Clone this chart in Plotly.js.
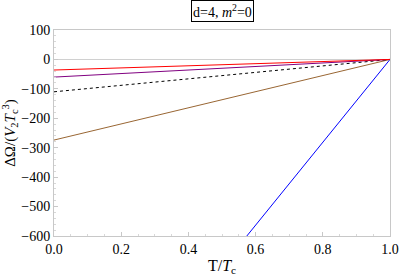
<!DOCTYPE html>
<html><head><meta charset="utf-8">
<script src="https://cdn.plot.ly/plotly-3.0.1.min.js"></script>
<style>html,body{margin:0;padding:0;background:#fff}</style>
</head><body><div id="chart" style="width:399px;height:276px"></div>
<script>
const xVals = [0, 1];
const redVals = [-36, 0];
const purpleVals = [-60, 0];
const blackVals = [-110, 0];
const brownVals = [-274, 0];
const blueVals = [-1408, 0];
const xTicks = [0, 0.2, 0.4, 0.6, 0.8, 1.0];
const xTickLabels = ['0.0','0.2','0.4','0.6','0.8','1.0'];
const yTicks = [100, 0, -100, -200, -300, -400, -500, -600];
const yTickLabels = ['100','0','−100','−200','−300','−400','−500','−600'];

const mk = (y, color, dash) => ({x: xVals, y: y, mode: 'lines', type: 'scatter',
  line: {color: color, width: 1, dash: dash || 'solid'}, hoverinfo: 'none', showlegend: false});

const traces = [
  mk(blueVals, '#0000ff'),
  mk(brownVals, '#996633'),
  mk(blackVals, '#000000', 'dot'),
  mk(purpleVals, '#800080'),
  mk(redVals, '#ff0000')
];

const FAM = 'Liberation Serif';
const wrap = s => '<span style="font-family:' + FAM + '">' + s + '</span>';

const layout = {
  width: 399, height: 276,
  margin: {l: 54, r: 9, t: 30, b: 40},
  paper_bgcolor: '#fff', plot_bgcolor: '#fff',
  font: {family: FAM, size: 14, color: '#000'},
  xaxis: {range: [0, 1], tickvals: xTicks, ticktext: xTickLabels.map(wrap),
    showgrid: false, showline: true, mirror: true, linecolor: '#c8c8c8', linewidth: 1,
    ticks: 'inside', ticklen: 4, tickcolor: '#c8c8c8',
    tickfont: {family: FAM, size: 14, color: '#000'},
    zeroline: false,
    minor: {ticks: 'inside', ticklen: 2, tickcolor: '#d8d8d8', dtick: 0.05},
    title: {text: 'T/<i>T</i><sub>c</sub>', font: {family: FAM, size: 16, color: '#000'}, standoff: 4}},
  yaxis: {range: [-600, 100], tickvals: yTicks, ticktext: yTickLabels.map(wrap),
    showgrid: false, showline: true, mirror: true, linecolor: '#c8c8c8', linewidth: 1,
    ticks: 'inside', ticklen: 4, tickcolor: '#c8c8c8',
    tickfont: {family: FAM, size: 14, color: '#000'},
    zeroline: true, zerolinecolor: '#d0d0d0', zerolinewidth: 1,
    minor: {ticks: 'inside', ticklen: 2, tickcolor: '#d8d8d8', dtick: 20},
    title: {text: 'ΔΩ/(<i>V</i><sub>2</sub><i>T</i><sub>c</sub><sup>3</sup>)', font: {family: FAM, size: 15, color: '#000'}, standoff: 4}},
  annotations: [{
    text: 'd=4, <i>m</i><sup>2</sup>=0', xref: 'paper', yref: 'paper', x: 0.5, y: 1, yshift: 19,
    xanchor: 'center', yanchor: 'middle', showarrow: false,
    font: {family: FAM, size: 14, color: '#000'},
    bordercolor: '#000', borderwidth: 1, borderpad: 1, bgcolor: '#fff'
  }]
};

Plotly.newPlot('chart', traces, layout, {displayModeBar: false, staticPlot: true});
</script></body></html>
